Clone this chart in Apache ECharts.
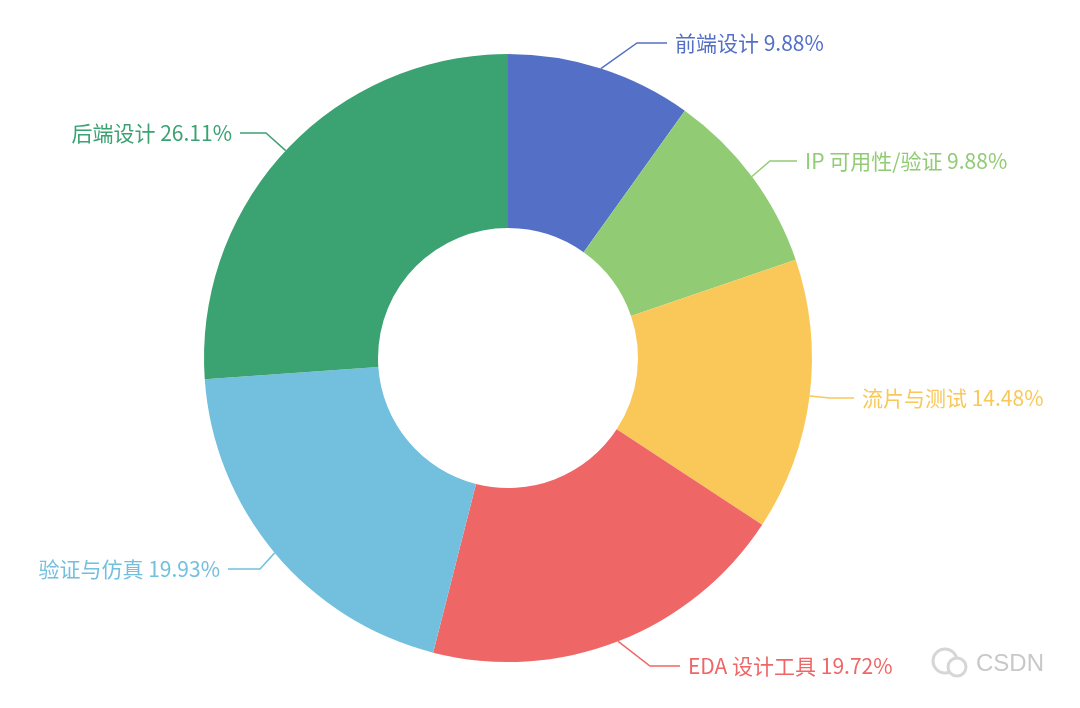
<!DOCTYPE html>
<html>
<head>
<meta charset="utf-8">
<script src="https://cdn.jsdelivr.net/npm/echarts@6/dist/echarts.min.js"></script>
<style>
  html, body { margin: 0; padding: 0; background: #fff; }
  #main { width: 1080px; height: 708px; }
</style>
</head>
<body>
<div id="main"></div>
<script>
  const categories = ['前端设计', 'IP 可用性/验证', '流片与测试', 'EDA 设计工具', '验证与仿真', '后端设计'];
  const shares = [9.88, 9.88, 14.48, 19.72, 19.93, 26.11];
  const colors = ['#5470c6', '#91cc75', '#fac858', '#ee6666', '#73c0de', '#3ba272'];

  // where each label sits: [x, y, align]
  const labelSpots = [
    [667, 43, 'left'],
    [797, 161, 'left'],
    [854, 398, 'left'],
    [680, 666, 'left'],
    [228, 569, 'right'],
    [240, 133, 'right']
  ];
  const lineTails = [30, 27, 24, 30, 32, 26];

  const myChart = echarts.init(document.getElementById('main'));

  myChart.setOption({
    color: colors,
    animation: false,
    textStyle: { fontFamily: '"Noto Sans CJK SC", "Noto Sans", sans-serif' },
    series: [
      {
        type: 'pie',
        center: [508, 358],
        radius: [130, 304],
        startAngle: 90,
        percentPrecision: 2,
        label: {
          show: true,
          position: 'outside',
          formatter: '{b} {d}%',
          fontSize: 21,
          color: 'inherit',
          padding: [0, 8],
          backgroundColor: '#fff', // hides the end of the line, leaves the gap before the text
          fontFamily: '"Noto Sans CJK SC", "Noto Sans", sans-serif'
        },
        labelLine: { show: true, length: 25, lineStyle: { width: 1.5 } },
        labelLayout: function (params) {
          const spot = labelSpots[params.dataIndex];
          return { x: spot[0], y: spot[1], align: spot[2], verticalAlign: 'middle' };
        },
        data: categories.map((name, i) => ({
          name: name,
          value: shares[i],
          labelLine: { length2: lineTails[i] }
        }))
      }
    ],
    graphic: [
      { type: 'circle', shape: { cx: 945, cy: 661, r: 12 }, style: { fill: '#fff', stroke: '#d6d6d6', lineWidth: 3 } },
      { type: 'circle', shape: { cx: 957, cy: 667, r: 9 }, style: { fill: '#fff', stroke: '#d6d6d6', lineWidth: 3 } },
      { type: 'text', left: 976, top: 652, style: { text: 'CSDN', fontSize: 24, fill: '#c8c8c8', fontFamily: '"Liberation Sans", sans-serif' } }
    ]
  });
</script>
</body>
</html>
